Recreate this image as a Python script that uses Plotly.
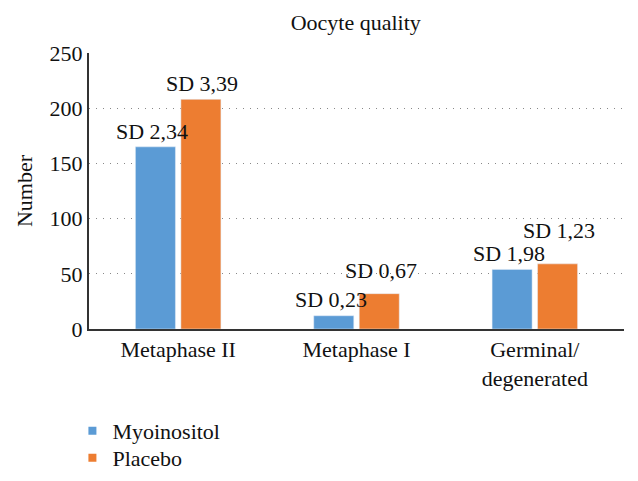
import plotly.graph_objects as go

categories = ["Metaphase II", "Metaphase I", "Germinal/<br>degenerated"]
myoinositol = [165, 12, 54]
placebo = [208, 32, 59]
sd_myo = ["SD 2,34", "SD 0,23", "SD 1,98"]
sd_pla = ["SD 3,39", "SD 0,67", "SD 1,23"]
y_ticks = [0, 50, 100, 150, 200, 250]

BLUE = "#5B9BD5"
ORANGE = "#ED7D31"
FONT = "Liberation Serif, Times New Roman, serif"
FS = 22

fig = go.Figure()
fig.add_trace(go.Bar(x=categories, y=myoinositol, name="Myoinositol",
                     marker=dict(color=BLUE), showlegend=False))
fig.add_trace(go.Bar(x=categories, y=placebo, name="Placebo",
                     marker=dict(color=ORANGE), showlegend=False))
# legend proxies with small square symbols
fig.add_trace(go.Scatter(x=[None], y=[None], mode="markers", name="Myoinositol",
                         marker=dict(symbol="square", size=8, color=BLUE),
                         legend="legend"))
fig.add_trace(go.Scatter(x=[None], y=[None], mode="markers", name="Placebo",
                         marker=dict(symbol="square", size=8, color=ORANGE),
                         legend="legend2"))

myo_shift = [1, 2, 1]
pla_shift = [1, 9, 19]
for i, c in enumerate(categories):
    fig.add_annotation(x=c, y=myoinositol[i], text=sd_myo[i], showarrow=False,
                       xshift=-26, yshift=myo_shift[i], yanchor="bottom",
                       font=dict(family=FONT, size=FS, color="#111"))
    fig.add_annotation(x=c, y=placebo[i], text=sd_pla[i], showarrow=False,
                       xshift=24, yshift=pla_shift[i], yanchor="bottom",
                       font=dict(family=FONT, size=FS, color="#111"))

legend_style = dict(orientation="v", x=-0.031, xanchor="left", yanchor="top",
                    font=dict(family=FONT, size=FS, color="#111"),
                    bgcolor="rgba(0,0,0,0)", itemwidth=30)

fig.update_layout(
    width=630, height=473,
    margin=dict(l=81, r=14, t=45, b=152, autoexpand=False),
    paper_bgcolor="white", plot_bgcolor="white",
    font=dict(family=FONT, size=FS, color="#111"),
    title=dict(text="Oocyte quality", x=0.552, xanchor="center", y=0.970,
               yanchor="middle", yref="container",
               font=dict(family=FONT, size=FS, color="#111")),
    barmode="group", bargap=0.49, bargroupgap=0.12,
    showlegend=True,
    legend=dict(y=-0.293, **legend_style),
    legend2=dict(y=-0.391, **legend_style),
    xaxis=dict(showline=True, linecolor="#333", linewidth=2, ticks="",
               tickfont=dict(family=FONT, size=FS, color="#111"),
               range=[-0.5, 2.5], automargin=False),
    yaxis=dict(range=[0, 250], tickvals=y_ticks, showline=True, linecolor="#333",
               linewidth=2, ticks="", showgrid=True, gridcolor="#888",
               griddash="1px,6px", gridwidth=1, zeroline=False, automargin=False,
               tickfont=dict(family=FONT, size=FS, color="#111"),
               title=dict(text="Number", standoff=11,
                          font=dict(family=FONT, size=FS, color="#111"))),
)

fig.write_html("out.html")
